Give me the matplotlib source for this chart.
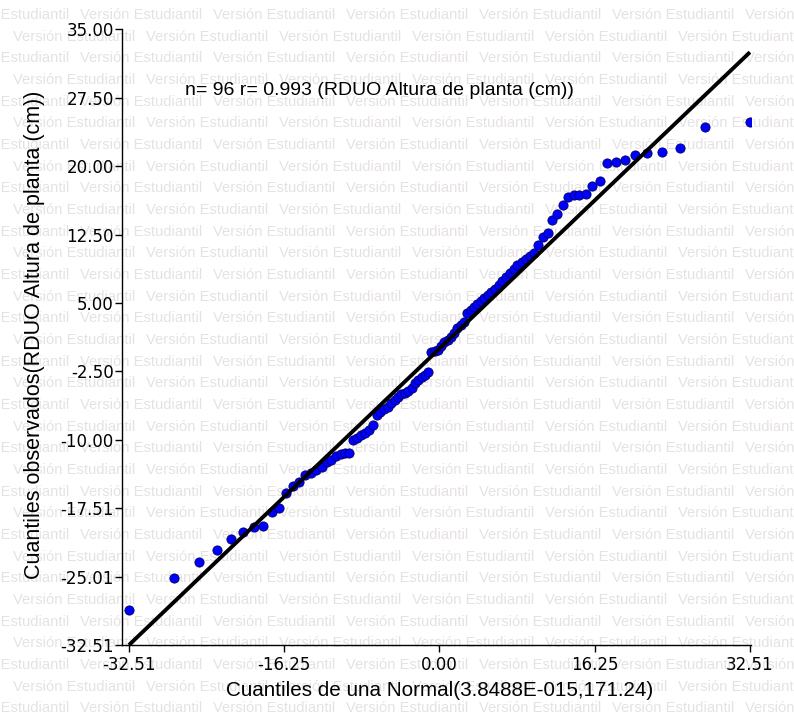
import matplotlib
matplotlib.use("Agg")
import matplotlib.pyplot as plt

plt.rcParams['font.family'] = ['Liberation Sans', 'DejaVu Sans']

# theoretical normal quantiles (x)
x_lower = [-32.51, -27.78, -25.16, -23.27, -21.78, -20.52, -19.43, -18.45, -17.58, -16.77,
           -16.02, -15.33, -14.66, -14.05, -13.45, -12.89, -12.35, -11.82, -11.32, -10.83,
           -10.36, -9.90, -9.45, -9.01, -8.59, -8.17, -7.76, -7.36, -6.96, -6.57,
           -6.19, -5.81, -5.43, -5.07, -4.70, -4.34, -3.98, -3.62, -3.27, -2.92,
           -2.57, -2.23, -1.88, -1.54, -1.19, -0.85, -0.51, -0.17]
x_upper = [0.17, 0.51, 0.85, 1.19, 1.54, 1.88, 2.23, 2.57, 2.92, 3.27,
           3.62, 3.98, 4.34, 4.70, 5.07, 5.43, 5.81, 6.19, 6.57, 6.96,
           7.36, 7.76, 8.17, 8.59, 9.01, 9.45, 9.90, 10.36, 10.83, 11.32,
           11.82, 12.35, 12.89, 13.45, 14.05, 14.66, 15.33, 16.02, 16.77, 17.58,
           18.45, 19.43, 20.52, 21.78, 23.27, 25.16, 27.78, 32.51]

# observed quantiles (y)
y_lower = [-28.67, -25.19, -23.37, -22.09, -20.92, -20.12, -19.60, -19.46, -17.89, -17.52,
           -15.87, -15.07, -14.60, -13.86, -13.68, -13.32, -12.95, -12.41, -12.22, -11.78,
           -11.56, -11.50, -11.45, -10.03, -9.84, -9.48, -9.29, -8.93, -8.38, -7.28,
           -6.92, -6.62, -6.37, -5.97, -5.64, -5.28, -4.98, -4.82, -4.65, -4.32,
           -3.81, -3.44, -3.12, -2.90, -2.62, -0.37, -0.26, -0.15]
y_upper = [0.28, 0.72, 0.94, 1.27, 1.71, 2.26, 2.59, 2.92, 3.91, 4.24,
           4.56, 4.89, 5.22, 5.55, 5.88, 6.21, 6.54, 6.98, 7.41, 7.85,
           8.29, 8.73, 9.17, 9.50, 9.83, 10.16, 10.49, 11.36, 12.24, 12.68,
           14.10, 14.76, 15.75, 16.68, 16.85, 16.90, 16.96, 17.83, 18.38, 20.36,
           20.47, 20.74, 21.23, 21.42, 21.53, 22.04, 24.34, 24.89]

ref_line_x = [-32.51, 32.51]
ref_line_y = [-32.51, 32.51]

x_ticks = [-32.51, -16.25, 0.00, 16.25, 32.51]
x_tick_labels = ["-32.51", "-16.25", "0.00", "16.25", "32.51"]
y_ticks = [-32.51, -25.01, -17.51, -10.00, -2.50, 5.00, 12.50, 20.00, 27.50, 35.00]
y_tick_labels = ["-32.51", "-25.01", "-17.51", "-10.00", "-2.50", "5.00", "12.50", "20.00", "27.50", "35.00"]

annotation = "n= 96 r= 0.993 (RDUO Altura de planta (cm))"
x_label = "Cuantiles de una Normal(3.8488E-015,171.24)"
y_label = "Cuantiles observados(RDUO Altura de planta (cm))"
watermark = "Versión Estudiantil"

W, H = 794, 717
fig = plt.figure(figsize=(W / 100, H / 100), dpi=100)
fig.patch.set_facecolor('white')

# tiled watermark
period = 133.0
row_step = 21.67
for r in range(34):
    py = 15 + r * row_step
    start = -52.6 if r % 2 == 0 else 13.3
    px = start
    while px < W:
        fig.text(px / W, 1 - py / H, watermark, fontsize=10.6, color='#e7e2e2',
                 ha='left', va='center', zorder=-5)
        px += period

left, right = 122, 751
top, bottom = 29.5, 645
ax = fig.add_axes([left / W, 1 - bottom / H, (right - left) / W, (bottom - top) / H])
ax.patch.set_visible(False)

x_all = x_lower + x_upper
y_all = y_lower + y_upper
ax.scatter(x_all, y_all, s=44, c='#0000ff', edgecolors='#000060', linewidths=0.6, zorder=3)
ax.plot(ref_line_x, ref_line_y, color='black', lw=2.8, zorder=4, solid_capstyle='butt')

ax.set_xlim(-33.24, 32.62)
ax.set_ylim(-32.51, 35.0)
ax.set_xticks(x_ticks)
ax.set_xticklabels(x_tick_labels)
ax.set_yticks(y_ticks)
ax.set_yticklabels(y_tick_labels)
ax.tick_params(axis='both', direction='out', length=5, width=1, colors='black')
ax.tick_params(axis='y', pad=1)
ax.tick_params(axis='x', pad=3)
for lab in ax.get_xticklabels() + ax.get_yticklabels():
    lab.set_fontfamily(['DejaVu Sans'])
    lab.set_fontsize(12)
for s in ['top', 'right']:
    ax.spines[s].set_visible(False)
for s in ['left', 'bottom']:
    ax.spines[s].set_linewidth(1.0)

ax.text(-26.65, 28.36, annotation, fontsize=14, ha='left', va='center', zorder=5)

fig.text(439.5 / W, 1 - 690 / H, x_label, fontsize=14.9, ha='center', va='center')
fig.text(35 / W, 1 - 335 / H, y_label, fontsize=15.5, ha='center', va='center', rotation=90)

fig.savefig("out.png", dpi=100, facecolor='white')
